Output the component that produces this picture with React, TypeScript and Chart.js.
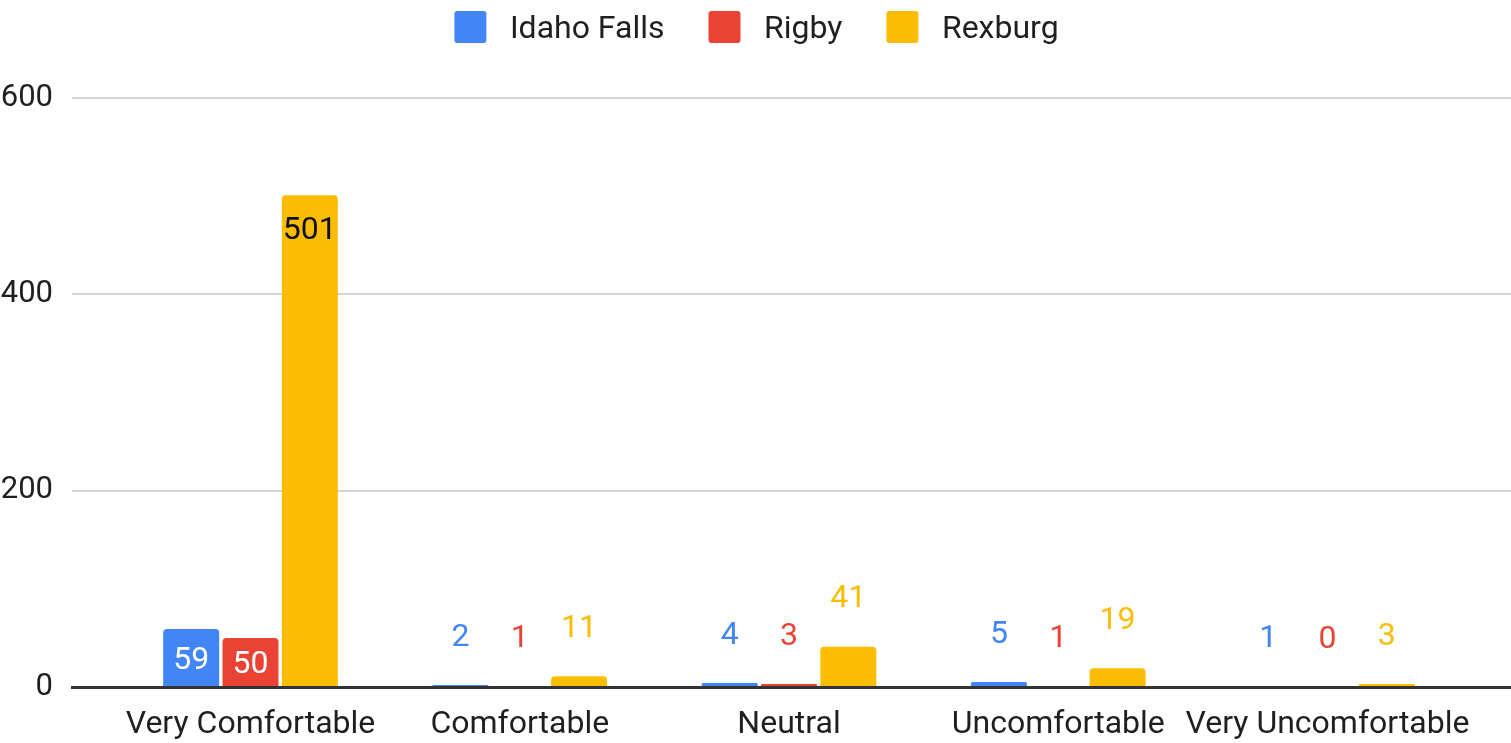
import React, { useEffect, useRef } from "react";
import { Chart, registerables } from "chart.js";

Chart.register(...registerables);

const categories = ["Very Comfortable", "Comfortable", "Neutral", "Uncomfortable", "Very Uncomfortable"];
const seriesNames = ["Idaho Falls", "Rigby", "Rexburg"];
const idahoFalls = [59, 2, 4, 5, 1];
const rigby = [50, 1, 3, 1, 0];
const rexburg = [501, 11, 41, 19, 3];
const seriesColors = ["#4285F4", "#EA4335", "#FBBC04"];
const insideLabelColors = ["#FFFFFF", "#FFFFFF", "#111111"];
const yMin = 0;
const yMax = 600;
const yStep = 200;

const FONT = "Roboto";
const FONT_SIZE = 32;
const TICK_FONT_SIZE = 31;
const TEXT_COLOR = "#1f1f1f";

const seriesValues = [idahoFalls, rigby, rexburg];

const legendPlugin = {
  id: "topLegend",
  afterDraw(chart: any) {
    const ctx = chart.ctx as CanvasRenderingContext2D;
    ctx.save();
    ctx.font = `${FONT_SIZE}px ${FONT}`;
    const box = 32;
    const gapText = 23.5;
    const gapItem = 44;
    const items = chart.data.datasets.map((ds: any) => ({
      label: ds.label as string,
      color: ds.backgroundColor as string,
      w: ctx.measureText(ds.label).width,
    }));
    const total =
      items.reduce((s: number, it: any) => s + box + gapText + it.w, 0) + gapItem * (items.length - 1);
    let x = chart.width / 2 - total / 2 + 1;
    const cy = 27;
    for (const it of items) {
      ctx.fillStyle = it.color;
      ctx.beginPath();
      (ctx as any).roundRect(x, cy - 16, box, box, 3);
      ctx.fill();
      ctx.fillStyle = TEXT_COLOR;
      ctx.textBaseline = "middle";
      ctx.textAlign = "left";
      ctx.fillText(it.label, x + box + gapText, cy + 2.5);
      x += box + gapText + it.w + gapItem;
    }
    ctx.restore();
  },
};

const valueLabelPlugin = {
  id: "valueLabels",
  afterDatasetsDraw(chart: any) {
    const ctx = chart.ctx as CanvasRenderingContext2D;
    ctx.save();
    ctx.font = `${FONT_SIZE}px ${FONT}`;
    ctx.textAlign = "center";
    ctx.textBaseline = "middle";
    chart.data.datasets.forEach((ds: any, di: number) => {
      const meta = chart.getDatasetMeta(di);
      meta.data.forEach((bar: any, i: number) => {
        const { x, y, base } = bar.getProps(["x", "y", "base"], true);
        const v = seriesValues[di][i];
        const h = base - y;
        let ty: number;
        let color: string;
        if (h >= 44) {
          ty = Math.min((y + base) / 2, y + 32.5);
          color = insideLabelColors[di];
        } else {
          ty = y - 50.5;
          color = seriesColors[di];
        }
        ctx.fillStyle = color;
        ctx.fillText(String(v), x, ty + 3);
      });
    });
    ctx.restore();
  },
};

export default function App() {
  const canvasRef = useRef<HTMLCanvasElement | null>(null);

  useEffect(() => {
    if (!canvasRef.current) return;
    const font = { family: FONT, size: FONT_SIZE };
    const chart = new Chart(canvasRef.current, {
      type: "bar",
      data: {
        datasets: seriesNames.map((name, di) => ({
          label: name,
          data: seriesValues[di].map((v, i) => ({ x: i, y: v })),
          backgroundColor: seriesColors[di],
          borderRadius: 4,
          categoryPercentage: 0.661,
          barPercentage: 0.944,
        })),
      },
      options: {
        responsive: false,
        animation: false,
        layout: { padding: { top: 98, left: 0, right: 0, bottom: 0 } },
        plugins: {
          legend: { display: false },
          tooltip: { enabled: false },
        },
        scales: {
          x: {
            type: "linear",
            offset: false,
            min: -0.663,
            max: 4.6815,
            afterBuildTicks: (s: any) => {
              s.ticks = categories.map((_, i) => ({ value: i }));
            },
            afterFit: (s: any) => {
              s.height = 56;
            },
            ticks: {
              callback: (v: any) => categories[v] ?? "",
              autoSkip: false,
              maxRotation: 0,
              minRotation: 0,
              padding: 19,
              color: TEXT_COLOR,
              font,
            },
            grid: { display: true, offset: false, drawOnChartArea: false, drawTicks: false },
            border: { display: true, color: "#333333", width: 3, z: 1 },
          },
          y: {
            type: "linear",
            min: yMin,
            max: yMax,
            afterFit: (s: any) => {
              s.width = 72;
            },
            ticks: {
              stepSize: yStep,
              padding: 19,
              color: TEXT_COLOR,
              font: { family: FONT, size: TICK_FONT_SIZE },
            },
            grid: {
              color: (c: any) => (c.tick && c.tick.value === 0 ? "rgba(0,0,0,0)" : "#d4d4d4"),
              lineWidth: 2,
              drawTicks: false,
            },
            border: { display: false },
          },
        },
      } as any,
      plugins: [legendPlugin, valueLabelPlugin],
    });
    return () => chart.destroy();
  }, []);

  return (
    <div style={{ position: "absolute", left: 0, top: 0, width: 1511, height: 743, background: "#fff" }}>
      <canvas ref={canvasRef} width={1511} height={743} style={{ display: "block" }} />
    </div>
  );
}
